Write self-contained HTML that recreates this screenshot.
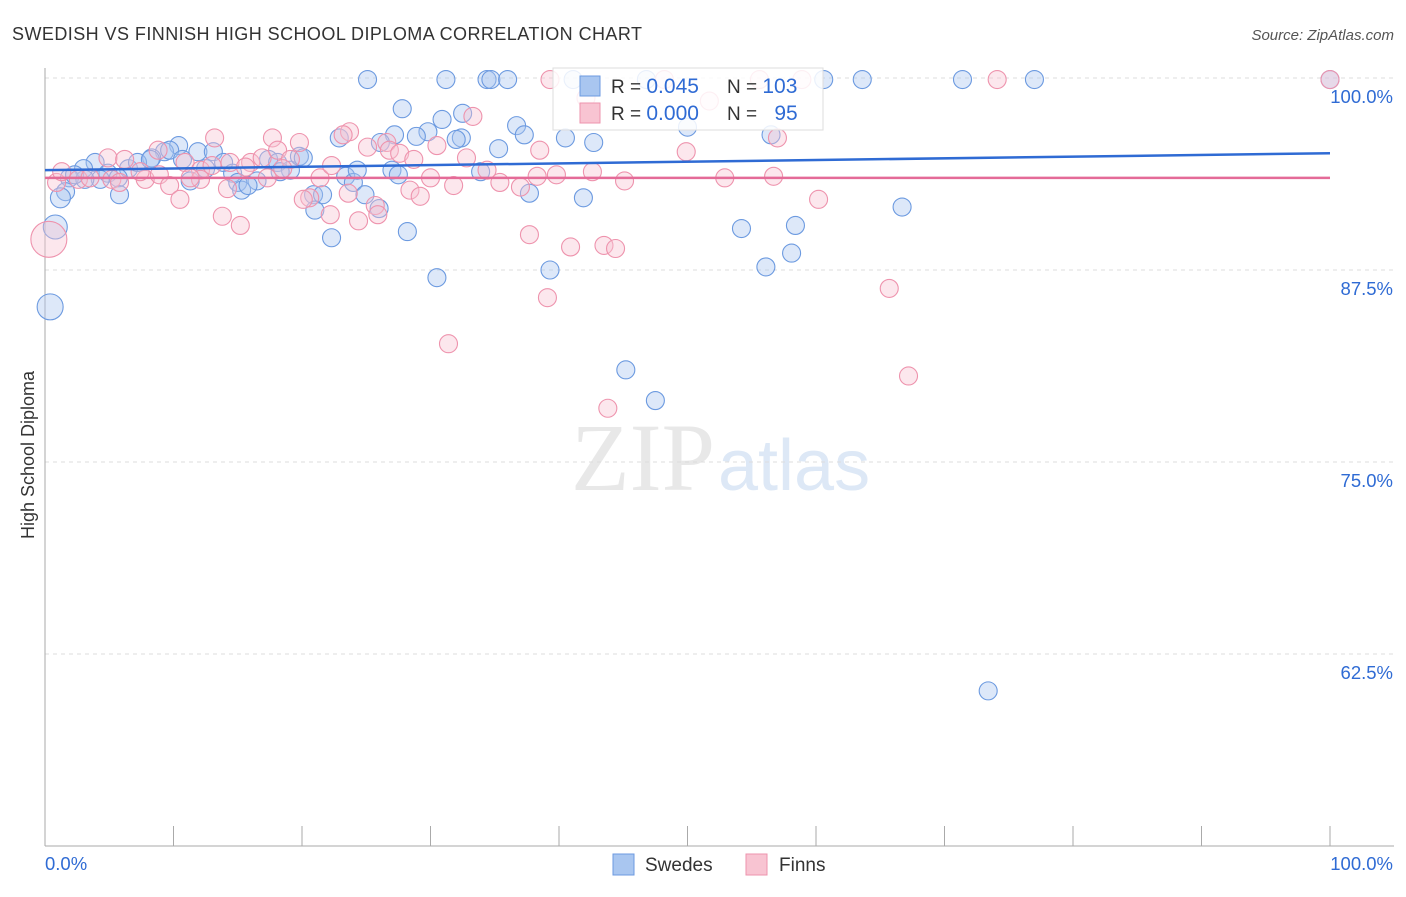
<!DOCTYPE html>
<html><head><meta charset="utf-8"><style>
body{margin:0;background:#fff;font-family:"Liberation Sans",sans-serif}
svg text{font-family:"Liberation Sans",sans-serif}
</style></head><body>
<svg id="chart" width="1406" height="892">
<text x="12" y="40" font-size="18" fill="#333" textLength="630">SWEDISH VS FINNISH HIGH SCHOOL DIPLOMA CORRELATION CHART</text>
<text x="1394" y="40" font-size="15" fill="#555" font-style="italic" text-anchor="end">Source: ZipAtlas.com</text>
<text x="715" y="490" font-size="96" fill="#e8e8e8" text-anchor="end" style="font-family:'Liberation Serif',serif">ZIP</text>
<text x="718" y="490" font-size="72" fill="#dde8f6">atlas</text>
<text x="34" y="455" font-size="18" fill="#333" transform="rotate(-90 34 455)" text-anchor="middle">High School Diploma</text>
<g id="grid"></g><g id="pts"></g><g id="trend"></g>
<g>
<rect x="553" y="68" width="270" height="62" fill="#fff" fill-opacity="0.85" stroke="#ddd"/>
<rect x="580" y="76" width="20" height="20" fill="#a9c6f0" stroke="#6c9ae0"/>
<rect x="580" y="103" width="20" height="20" fill="#f8c4d2" stroke="#ee93ad"/>
<text x="611" y="93" font-size="19" fill="#333">R = <tspan fill="#2f6bd4" font-size="21">0.045</tspan></text>
<text x="727" y="93" font-size="19" fill="#333">N = <tspan fill="#2f6bd4" font-size="21">103</tspan></text>
<text x="611" y="120" font-size="19" fill="#333">R = <tspan fill="#2f6bd4" font-size="21">0.000</tspan></text>
<text x="727" y="120" font-size="19" fill="#333">N = <tspan fill="#2f6bd4" font-size="21" dx="12">95</tspan></text>
</g>
<g>
<rect x="613" y="854" width="21" height="21" fill="#a9c6f0" stroke="#6c9ae0"/>
<text x="645" y="871" font-size="19" fill="#333">Swedes</text>
<rect x="746" y="854" width="21" height="21" fill="#f8c4d2" stroke="#ee93ad"/>
<text x="779" y="871" font-size="19" fill="#333">Finns</text>
</g>
</svg>
<script>
const yTicks=[100,87.5,75,62.5];
const yTickLabels=["100.0%","87.5%","75.0%","62.5%"];
const xEndLabels=["0.0%","100.0%"];
const blueX=[25.1,31.2,34.4,34.7,36.0,41.1,46.8,60.6,63.6,71.4,77.0,100,27.8,30.9,32.5,29.8,28.9,27.2,32.4,32.0,36.7,37.3,40.5,42.7,50.0,56.5,22.9,26.1,35.3,10.4,11.9,9.3,8.3,13.1,13.9,9.7,10.7,3.9,3.0,4.9,6.5,7.2,5.7,1.9,1.6,1.2,5.8,0.8,0.4,11.3,12.5,14.6,15.0,15.3,16.5,15.8,17.4,18.1,19.1,19.8,18.3,20.1,20.9,21.6,23.4,24.0,24.9,26.0,21.0,22.3,24.3,28.2,27.0,27.5,33.9,37.7,41.9,39.3,30.5,45.2,47.5,54.2,58.4,56.1,58.1,66.7,73.4,8.2,4.3,3.1,2.3];
const blueY=[99.9,99.9,99.9,99.9,99.9,99.9,99.9,99.9,99.9,99.9,99.9,99.9,98.0,97.3,97.7,96.5,96.2,96.3,96.1,96.0,96.9,96.3,96.1,95.8,96.8,96.3,96.1,95.8,95.4,95.6,95.2,95.2,94.8,95.2,94.5,95.3,94.7,94.5,94.1,93.8,94.1,94.5,93.5,93.5,92.6,92.2,92.4,90.3,85.1,93.3,94.1,93.8,93.2,92.7,93.3,93.0,94.7,94.5,94.0,94.9,93.9,94.8,92.4,92.4,93.6,93.2,92.4,91.5,91.4,89.6,94.0,90.0,94.0,93.7,93.9,92.5,92.2,87.5,87.0,81.0,79.0,90.2,90.4,87.7,88.6,91.6,60.1,94.7,93.4,93.4,93.7];
const pinkX=[39.3,48.2,55.6,58.9,74.1,100,42.1,51.7,33.3,23.7,23.2,13.2,17.7,19.8,26.6,26.8,25.1,27.6,28.7,30.5,32.8,38.5,49.9,57.0,4.9,6.2,8.8,10.9,12.1,13.0,14.4,16.0,16.9,18.1,19.1,0.9,1.3,2.6,3.5,5.2,7.8,8.9,9.7,10.5,12.1,14.2,15.6,17.3,18.5,20.6,21.4,22.3,23.6,25.7,28.4,29.2,30.0,31.8,34.4,35.4,37.0,38.3,39.8,42.6,45.1,52.9,56.7,60.2,13.8,15.2,24.4,25.9,37.7,40.9,43.5,44.4,39.1,31.4,43.8,65.7,67.2,0.3,5.8,7.4,11.3,20.1,22.2];
const pinkY=[99.9,99.9,99.9,99.9,99.9,99.9,98.7,98.5,97.5,96.5,96.3,96.1,96.1,95.8,95.8,95.3,95.5,95.1,94.7,95.6,94.8,95.3,95.2,96.1,94.8,94.7,95.3,94.5,94.0,94.3,94.5,94.5,94.8,95.3,94.7,93.2,93.9,93.4,93.5,93.4,93.4,93.7,93.0,92.1,93.4,92.8,94.2,93.5,94.1,92.2,93.5,94.3,92.5,91.7,92.7,92.3,93.5,93.0,94.0,93.2,92.9,93.6,93.7,93.9,93.3,93.5,93.6,92.1,91.0,90.4,90.7,91.1,89.8,89.0,89.1,88.9,85.7,82.7,78.5,86.3,80.6,89.5,93.2,93.9,93.5,92.1,91.1];
const blueTrend=[94.0,95.1];
const pinkTrend=[93.5,93.5];
const X0=45,X1=1330,Y100=78,PX=15.36;
function xs(v){return X0+(X1-X0)*v/100;}
function ys(v){return Y100+(100-v)*PX;}
const NS="http://www.w3.org/2000/svg";
function mk(t,a,p){const e=document.createElementNS(NS,t);for(const k in a)e.setAttribute(k,a[k]);p.appendChild(e);return e;}
const grid=document.getElementById('grid');
yTicks.forEach((v,i)=>{
 const l=mk('line',{x1:X0,x2:1394,y1:ys(v),y2:ys(v),stroke:'#ddd','stroke-dasharray':'4,4'},grid);
 
 
 const t=mk('text',{x:1393,y:ys(v)+25,'font-size':18.5,fill:'#2f6bd4','text-anchor':'end'},grid);
 t.textContent=yTickLabels[i];
 
 
});
const ax=mk('line',{x1:X0,x2:X0,y1:68,y2:846,stroke:'#aaa'},grid);


const bx=mk('line',{x1:X0,x2:1394,y1:846,y2:846,stroke:'#aaa'},grid);


for(let i=0;i<=10;i++){
 const tk=mk('line',{x1:xs(i*10),x2:xs(i*10),y1:826,y2:846,stroke:'#aaa'},grid);
 
 
}
[[0,'start',45],[100,'end',1393]].forEach((d,i)=>{
 const t=mk('text',{x:d[2],y:870,'font-size':18.5,fill:'#2f6bd4','text-anchor':d[1]},grid);
 t.textContent=xEndLabels[i];
 
 
});
const pts=document.getElementById('pts');
function big(x,y){if(x<1&&y<86)return 13;if(x<1&&y<91)return 12;if(x<1.5&&y<92.5)return 10;return 9;}
blueX.forEach((x,i)=>{
 const c=mk('circle',{cx:xs(x),cy:ys(blueY[i]),r:big(x,blueY[i]),fill:'#a9c6f0','fill-opacity':0.4,stroke:'#6c9ae0','stroke-width':1.1},pts);
 
 
});
pinkX.forEach((x,i)=>{
 const r=(x<0.5&&pinkY[i]<90)?18:9;
 const c=mk('circle',{cx:xs(x),cy:ys(pinkY[i]),r:r,fill:'#f8c4d2','fill-opacity':0.4,stroke:'#ee93ad','stroke-width':1.1},pts);
 
 
});
const tr=document.getElementById('trend');
const bl=mk('line',{x1:xs(0),x2:xs(100),y1:ys(blueTrend[0]),y2:ys(blueTrend[1]),stroke:'#2f6bd4','stroke-width':2.5},tr);


const pl=mk('line',{x1:xs(0),x2:xs(100),y1:ys(pinkTrend[0]),y2:ys(pinkTrend[1]),stroke:'#e46b98','stroke-width':2.5},tr);


</script>
</body></html>
